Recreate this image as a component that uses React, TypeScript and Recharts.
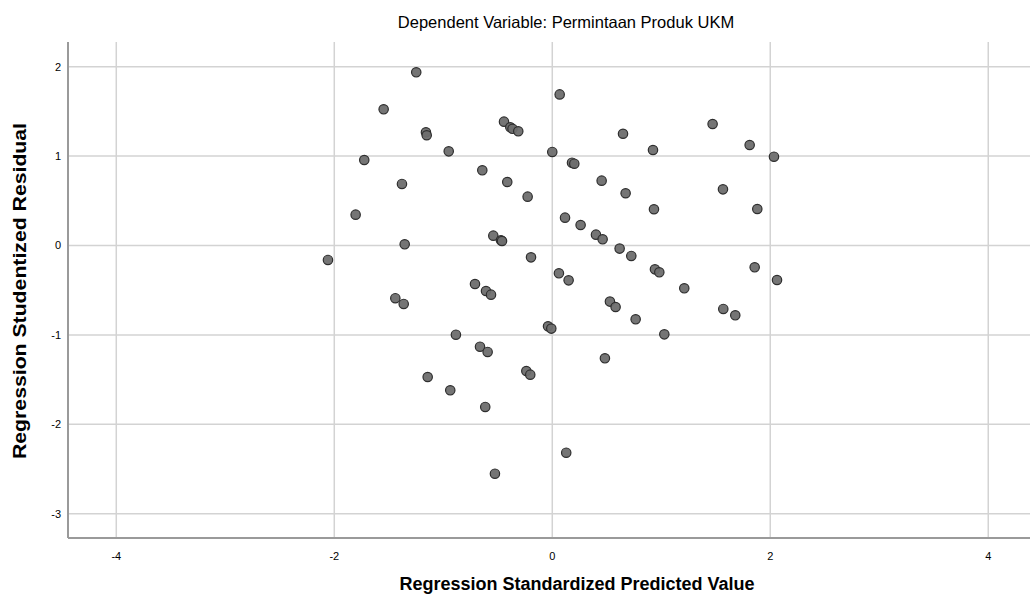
import React from "react";
import { ScatterChart, Scatter, XAxis, YAxis, CartesianGrid } from "recharts";

const predictedValues: number[] = [
  -1.248, -1.547, 0.068, -0.443, -0.385, -0.365, -0.312, -1.159, -1.152, -0.95,
  0.0, -1.725, 0.181, 0.202, -0.642, -1.379, -0.413, -0.226, -1.804, -1.354,
  -0.541, -0.471, -0.461, 0.117, 0.26, 0.401, 0.462, 0.649, 1.471, 1.811,
  2.034, 0.924, 0.453, 0.673, 0.933, 1.566, 1.881, 0.618, -2.058, -0.195,
  0.061, 0.15, -0.709, -0.608, -0.562, -1.44, -1.363, -0.039, -0.009, -0.884,
  -0.663, -0.593, -1.143, -0.936, -0.238, -0.202, -0.615, 0.725, 0.942, 0.982,
  1.211, 1.857, 2.062, 0.529, 0.581, 0.765, 1.028, 1.569, 1.679, 0.483,
  0.128, -0.526,
];

const studentizedResiduals: number[] = [
  1.937, 1.523, 1.69, 1.385, 1.322, 1.305, 1.277, 1.266, 1.233, 1.053,
  1.046, 0.956, 0.926, 0.915, 0.841, 0.688, 0.71, 0.546, 0.345, 0.013,
  0.11, 0.058, 0.05, 0.311, 0.229, 0.121, 0.069, 1.25, 1.359, 1.124,
  0.993, 1.068, 0.725, 0.584, 0.405, 0.628, 0.408, -0.035, -0.162, -0.133,
  -0.311, -0.39, -0.431, -0.509, -0.55, -0.59, -0.654, -0.904, -0.93, -0.998,
  -1.132, -1.191, -1.471, -1.62, -1.404, -1.445, -1.806, -0.117, -0.267, -0.3,
  -0.479, -0.244, -0.386, -0.628, -0.688, -0.826, -0.994, -0.71, -0.781, -1.262,
  -2.318, -2.553,
];

const xTicks: number[] = [-4, -2, 0, 2, 4];
const yTicks: number[] = [-3, -2, -1, 0, 1, 2];

const titleText = "Dependent Variable: Permintaan Produk UKM";
const xLabelText = "Regression Standardized Predicted Value";
const yLabelText = "Regression Studentized Residual";

const data = predictedValues.map((x, i) => ({ x, y: studentizedResiduals[i] }));

const FONT = "'Liberation Sans', Arial, sans-serif";

const Dot = (props: any) => {
  const { cx, cy } = props;
  if (cx == null || cy == null) return null;
  return (
    <circle
      cx={cx}
      cy={cy}
      r={4.7}
      fill="#6e6e6e"
      fillOpacity={0.95}
      stroke="#2e2e2e"
      strokeWidth={1.2}
    />
  );
};

const XTick = (p: any) => (
  <text x={p.x} y={p.y} dy="0.71em" textAnchor="middle" fill="#000" fontSize={11} fontFamily={FONT}>
    {p.payload.value}
  </text>
);

const YTick = (p: any) => (
  <text x={p.x} y={p.y} dy="0.355em" textAnchor="end" fill="#000" fontSize={11} fontFamily={FONT}>
    {p.payload.value}
  </text>
);

export default function App() {
  return (
    <div style={{ position: "absolute", left: 0, top: 0, width: 1030, height: 605, background: "#fff" }}>
      <ScatterChart
        width={1030}
        height={605}
        margin={{ top: 42, right: 0, bottom: 0, left: 8 }}
        style={{ fontFamily: FONT }}
      >
        <text
          x={566}
          y={22}
          textAnchor="middle"
          dominantBaseline="central"
          fontFamily={FONT}
          fontSize={16.5}
          fill="#000"
        >
          {titleText}
        </text>
        <CartesianGrid stroke="#d3d3d3" strokeWidth={1.5} horizontalValues={yTicks} verticalValues={xTicks} />
        <XAxis
          type="number"
          dataKey="x"
          domain={[-4.443, 4.383]}
          allowDataOverflow
          ticks={xTicks}
          height={67}
          tickLine={false}
          tickSize={9}
          tickMargin={5}
          axisLine={{ stroke: "#9a9a9a", strokeWidth: 2 }}
          tick={XTick}
          label={{
            content: () => (
              <text
                x={577}
                y={584}
                textAnchor="middle"
                dominantBaseline="central"
                fontFamily={FONT}
                fontSize={18}
                fontWeight="bold"
                fill="#000"
              >
                {xLabelText}
              </text>
            ),
          }}
        />
        <YAxis
          type="number"
          dataKey="y"
          domain={[-3.272, 2.276]}
          allowDataOverflow
          ticks={yTicks}
          width={60}
          tickLine={false}
          tickSize={5}
          tickMargin={2}
          axisLine={{ stroke: "#9a9a9a", strokeWidth: 2 }}
          tick={YTick}
          label={{
            content: () => (
              <text
                x={20}
                y={291}
                transform="rotate(-90 20 291)"
                textAnchor="middle"
                dominantBaseline="central"
                fontFamily={FONT}
                fontSize={18}
                fontWeight="bold"
                fill="#000"
                textLength={336}
                lengthAdjust="spacingAndGlyphs"
              >
                {yLabelText}
              </text>
            ),
          }}
        />
        <Scatter data={data} shape={Dot} isAnimationActive={false} />
      </ScatterChart>
    </div>
  );
}
